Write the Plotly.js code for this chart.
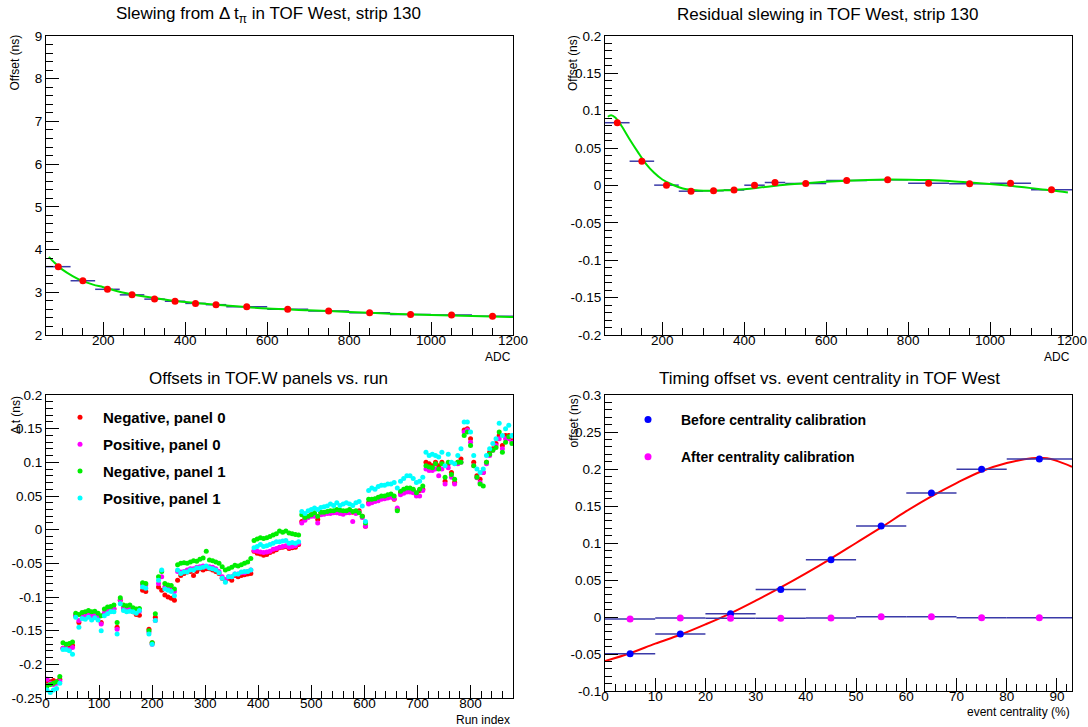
<!DOCTYPE html>
<html><head><meta charset="utf-8">
<script src="https://cdn.plot.ly/plotly-3.0.1.min.js"></script>
<style>html,body{margin:0;padding:0;background:#fff}#chart{width:1088px;height:727px}</style>
</head><body><div id="chart"></div>
<script>
// ---------- Panel 1 & 2: slewing vs ADC ----------
const adcCenters = [90,150,210,270,325,375,425,475,550,650,750,850,950,1050,1150];
const adcBinLo   = [60,120,180,240,300,350,400,450,500,600,700,800,900,1000,1100];
const adcBinHi   = [120,180,240,300,350,400,450,500,600,700,800,900,1000,1100,1200];
const slewOffset = [3.60,3.27,3.07,2.94,2.84,2.79,2.74,2.71,2.66,2.60,2.56,2.52,2.48,2.47,2.44];
const slewFitX = [67,80,100,125,150,175,200,250,300,350,400,500,600,700,800,900,1000,1100,1200];
const slewFitY = [3.83,3.70,3.53,3.38,3.26,3.18,3.12,2.99,2.90,2.83,2.77,2.69,2.62,2.58,2.54,2.50,2.47,2.445,2.42];
const residOffset = [0.084,0.0325,0.0005,-0.0076,-0.007,-0.006,0.0004,0.004,0.0027,0.0067,0.0076,0.003,0.0022,0.003,-0.0058];
const residFitX = [67,75,85,100,120,140,160,180,200,225,250,275,300,350,400,450,500,550,600,650,700,750,800,850,900,950,1000,1050,1100,1150,1190];
const residFitY = [0.092,0.094,0.091,0.080,0.062,0.045,0.029,0.017,0.008,0.001,-0.004,-0.006,-0.007,-0.0065,-0.005,-0.002,0.001,0.003,0.005,0.0065,0.0075,0.008,0.0078,0.0072,0.006,0.004,0.002,-0.0005,-0.0035,-0.0065,-0.0095];

// ---------- Panel 3: offsets vs run ----------
const runIndex = [2,8,14,20,26,32,38,44,50,56,
 62,68,74,80,86,92,98,104,110,116,
 122,128,134,140,146,152,158,164,170,176,
 182,188,194,200,206,212,218,224,230,236,
 242,248,254,260,266,272,278,284,290,296,
 302,308,314,320,326,332,338,344,350,356,
 362,368,374,380,386,392,398,404,410,416,
 422,428,434,440,446,452,458,464,470,476,
 482,488,494,500,506,512,518,524,530,536,
 542,548,554,560,566,572,578,584,590,596,
 602,608,614,620,626,632,638,644,650,656,
 662,668,674,680,686,692,698,704,710,716,
 722,728,734,740,746,752,758,764,770,776,
 782,788,794,800,806,812,818,824,830,836,
 842,848,854,860,866,872,878];
const negPanel0 = [-0.225,-0.226,-0.224,-0.226,-0.222,-0.176,-0.175,-0.176,-0.172,-0.128,
 -0.138,-0.128,-0.127,-0.126,-0.128,-0.127,-0.130,-0.138,-0.124,-0.122,
 -0.120,-0.118,-0.145,-0.105,-0.118,-0.120,-0.119,-0.122,-0.126,-0.127,
 -0.090,-0.092,-0.148,-0.168,-0.130,-0.085,-0.090,-0.097,-0.100,-0.102,
 -0.105,-0.075,-0.068,-0.065,-0.063,-0.062,-0.068,-0.062,-0.058,-0.060,
 -0.058,-0.058,-0.060,-0.062,-0.065,-0.072,-0.076,-0.072,-0.075,-0.068,
 -0.070,-0.068,-0.067,-0.066,-0.065,-0.032,-0.035,-0.036,-0.038,-0.037,
 -0.034,-0.032,-0.030,-0.027,-0.026,-0.025,-0.028,-0.027,-0.026,-0.022,
 0.012,0.017,0.020,0.022,0.022,0.015,0.025,0.025,0.026,0.027,
 0.027,0.028,0.027,0.026,0.027,0.028,0.026,0.027,0.028,0.020,
 0.005,0.040,0.044,0.045,0.046,0.048,0.048,0.050,0.052,0.045,
 0.030,0.055,0.058,0.058,0.060,0.058,0.052,0.058,0.060,0.100,
 0.098,0.095,0.100,0.095,0.100,0.072,0.098,0.085,0.070,0.100,
 0.105,0.148,0.150,0.135,0.100,0.080,0.075,0.085,0.100,0.115,
 0.120,0.128,0.140,0.125,0.140,0.140,0.132];
const posPanel0 = [-0.222,-0.228,-0.230,-0.228,-0.225,-0.176,-0.176,-0.178,-0.175,-0.127,
 -0.135,-0.127,-0.128,-0.126,-0.128,-0.127,-0.130,-0.140,-0.124,-0.121,
 -0.118,-0.117,-0.148,-0.104,-0.116,-0.118,-0.118,-0.120,-0.122,-0.121,
 -0.081,-0.082,-0.152,-0.170,-0.135,-0.080,-0.070,-0.085,-0.088,-0.087,
 -0.092,-0.062,-0.063,-0.062,-0.060,-0.058,-0.058,-0.056,-0.055,-0.054,
 -0.055,-0.055,-0.056,-0.058,-0.062,-0.070,-0.074,-0.070,-0.070,-0.066,
 -0.066,-0.064,-0.064,-0.062,-0.060,-0.031,-0.032,-0.033,-0.034,-0.033,
 -0.032,-0.029,-0.028,-0.026,-0.025,-0.024,-0.026,-0.025,-0.024,-0.020,
 0.010,0.014,0.018,0.020,0.020,0.010,0.022,0.023,0.024,0.024,
 0.025,0.025,0.024,0.023,0.025,0.025,0.012,0.024,0.026,0.018,
 0.005,0.038,0.040,0.042,0.043,0.045,0.046,0.047,0.048,0.046,
 0.032,0.052,0.054,0.056,0.056,0.055,0.050,0.050,0.058,0.090,
 0.088,0.088,0.090,0.080,0.090,0.068,0.092,0.078,0.068,0.098,
 0.100,0.145,0.148,0.130,0.095,0.077,0.070,0.085,0.098,0.110,
 0.118,0.125,0.135,0.120,0.135,0.135,0.130];
const negPanel1 = [-0.232,-0.230,-0.228,-0.226,-0.218,-0.168,-0.170,-0.169,-0.167,-0.124,
 -0.126,-0.123,-0.122,-0.120,-0.122,-0.121,-0.124,-0.128,-0.118,-0.115,
 -0.114,-0.112,-0.138,-0.101,-0.112,-0.113,-0.112,-0.116,-0.118,-0.117,
 -0.079,-0.080,-0.150,-0.168,-0.125,-0.070,-0.062,-0.080,-0.082,-0.083,
 -0.088,-0.052,-0.050,-0.049,-0.050,-0.048,-0.046,-0.047,-0.044,-0.042,
 -0.032,-0.045,-0.046,-0.048,-0.050,-0.055,-0.060,-0.058,-0.056,-0.053,
 -0.054,-0.052,-0.050,-0.048,-0.043,-0.016,-0.014,-0.012,-0.013,-0.012,
 -0.010,-0.008,-0.006,-0.002,-0.004,-0.002,-0.005,-0.006,-0.007,-0.008,
 0.022,0.018,0.020,0.022,0.025,0.020,0.026,0.026,0.027,0.028,
 0.028,0.030,0.029,0.028,0.028,0.030,0.027,0.028,0.025,0.020,
 0.010,0.045,0.045,0.046,0.048,0.050,0.050,0.052,0.053,0.050,
 0.028,0.057,0.060,0.062,0.062,0.060,0.055,0.060,0.065,0.095,
 0.093,0.092,0.098,0.090,0.098,0.078,0.100,0.082,0.075,0.100,
 0.100,0.140,0.145,0.125,0.095,0.078,0.068,0.065,0.100,0.112,
 0.118,0.122,0.145,0.115,0.130,0.138,0.128];
const posPanel1 = [-0.238,-0.242,-0.238,-0.236,-0.228,-0.178,-0.178,-0.180,-0.185,-0.130,
 -0.145,-0.132,-0.133,-0.130,-0.134,-0.131,-0.134,-0.150,-0.128,-0.125,
 -0.122,-0.122,-0.155,-0.110,-0.120,-0.122,-0.121,-0.122,-0.124,-0.120,
 -0.085,-0.087,-0.155,-0.170,-0.135,-0.075,-0.060,-0.088,-0.090,-0.092,
 -0.098,-0.060,-0.065,-0.063,-0.063,-0.060,-0.060,-0.057,-0.057,-0.056,
 -0.054,-0.057,-0.058,-0.060,-0.064,-0.072,-0.078,-0.070,-0.070,-0.066,
 -0.066,-0.063,-0.062,-0.062,-0.060,-0.027,-0.025,-0.022,-0.025,-0.024,
 -0.022,-0.020,-0.018,-0.018,-0.017,-0.016,-0.020,-0.019,-0.020,-0.018,
 0.027,0.024,0.028,0.030,0.032,0.030,0.033,0.034,0.035,0.038,
 0.036,0.040,0.036,0.038,0.040,0.038,0.036,0.040,0.042,0.035,
 0.012,0.058,0.062,0.060,0.064,0.066,0.066,0.068,0.068,0.070,
 0.062,0.072,0.076,0.080,0.080,0.076,0.070,0.072,0.078,0.115,
 0.110,0.112,0.110,0.108,0.115,0.095,0.112,0.100,0.098,0.110,
 0.120,0.160,0.160,0.145,0.110,0.090,0.085,0.090,0.110,0.120,
 0.128,0.135,0.158,0.140,0.150,0.155,0.140];

// ---------- Panel 4: offset vs centrality ----------
const centCenters = [5,15,25,35,45,55,65,75,86.5];
const centBinLo = [0,10,20,30,40,50,60,70,80];
const centBinHi = [10,20,30,40,50,60,70,80,93];
const beforeOffset = [-0.0495,-0.023,0.0045,0.037,0.0775,0.123,0.1675,0.1995,0.2135];
const afterOffset = [-0.0027,-0.0014,-0.0018,-0.0018,-0.0014,0.0005,0.0005,-0.001,-0.001];
const centFitX = [0,5,10,15,20,25,30,35,40,45,50,55,60,65,70,75,80,85,88,90,93];
const centFitY = [-0.0595,-0.049,-0.036,-0.024,-0.010,0.005,0.022,0.040,0.059,0.079,0.100,0.121,0.143,0.163,0.181,0.197,0.208,0.2145,0.2145,0.211,0.203];

// ---------- tick labels ----------
const yTicks1 = [2,3,4,5,6,7,8,9];
const yLabels1 = ['2','3','4','5','6','7','8','9'];
const yTicks2 = [-0.2,-0.15,-0.1,-0.05,0,0.05,0.1,0.15,0.2];
const yLabels2 = ['-0.2','-0.15','-0.1','-0.05','0','0.05','0.1','0.15','0.2'];
const yTicks3 = [-0.25,-0.2,-0.15,-0.1,-0.05,0,0.05,0.1,0.15,0.2];
const yLabels3 = ['-0.25','-0.2','-0.15','-0.1','-0.05','0','0.05','0.1','0.15','0.2'];
const yTicks4 = [-0.1,-0.05,0,0.05,0.1,0.15,0.2,0.25,0.3];
const yLabels4 = ['-0.1','-0.05','0','0.05','0.1','0.15','0.2','0.25','0.3'];
const xTicksAdc = [200,400,600,800,1000,1200];
const xLabelsAdc = ['200','400','600','800','1000','1200'];
const xTicksRun = [0,100,200,300,400,500,600,700,800];
const xLabelsRun = ['0','100','200','300','400','500','600','700','800'];
const xTicksCent = [0,10,20,30,40,50,60,70,80,90];
const xLabelsCent = ['0','10','20','30','40','50','60','70','80','90'];

const FONT = 'Liberation Sans, Arial, Helvetica, sans-serif';
const W = 1088, H = 727;
const px = v => v / W;
const py = v => 1 - v / H;

function minus(a, b) { return a.map((v, i) => v - b[i]); }

function axis(domain, range, vals, texts, minorD, anchor, isX) {
  const a = {
    domain: domain, range: range, anchor: anchor, autorange: false,
    tickmode: 'array', tickvals: vals, ticktext: texts,
    ticks: 'inside', ticklen: 13, tickwidth: 1, tickcolor: '#000',
    showline: true, linecolor: '#000', linewidth: 1, mirror: true,
    showgrid: false, zeroline: false, fixedrange: true,
    tickfont: {family: FONT, size: 13.5, color: '#000'},
    minor: {tickmode: 'linear', tick0: 0, dtick: minorD, ticks: 'inside', ticklen: 7, tickwidth: 1, tickcolor: '#000', showgrid: false}
  };
  if (isX) a.ticklabelstandoff = -7;
  return a;
}

const xL = [px(46), px(513)], xR = [px(605), px(1072)];
const yT = [py(335), py(36)];
const yBL = [py(698), py(395)], yBR = [py(691), py(395)];

const barColor = '#3a3aa8';
const runSize = 5;
const traces = [
  // panel 1
  {x: adcCenters, y: slewOffset, xaxis: 'x', yaxis: 'y', mode: 'markers', showlegend: false,
   marker: {size: 1, color: 'rgba(0,0,0,0)'},
   error_x: {type: 'data', symmetric: false, array: minus(adcBinHi, adcCenters), arrayminus: minus(adcCenters, adcBinLo), color: barColor, thickness: 1.5, width: 0}},
  {x: slewFitX, y: slewFitY, xaxis: 'x', yaxis: 'y', mode: 'lines', showlegend: false,
   line: {color: '#00e000', width: 2, shape: 'spline'}},
  {x: adcCenters, y: slewOffset, xaxis: 'x', yaxis: 'y', mode: 'markers', showlegend: false,
   marker: {size: 7, color: '#ff0000'}},
  // panel 2
  {x: adcCenters, y: residOffset, xaxis: 'x2', yaxis: 'y2', mode: 'markers', showlegend: false,
   marker: {size: 1, color: 'rgba(0,0,0,0)'},
   error_x: {type: 'data', symmetric: false, array: minus(adcBinHi, adcCenters), arrayminus: minus(adcCenters, adcBinLo), color: barColor, thickness: 1.5, width: 0}},
  {x: residFitX, y: residFitY, xaxis: 'x2', yaxis: 'y2', mode: 'lines', showlegend: false,
   line: {color: '#00e000', width: 2, shape: 'spline'}},
  {x: adcCenters, y: residOffset, xaxis: 'x2', yaxis: 'y2', mode: 'markers', showlegend: false,
   marker: {size: 7, color: '#ff0000'}},
  // panel 3
  {x: runIndex, y: negPanel0, xaxis: 'x3', yaxis: 'y3', mode: 'markers', name: 'Negative, panel 0',
   legend: 'legend', legendgroup: 'a', marker: {size: runSize, color: '#ff0000'}},
  {x: runIndex, y: posPanel0, xaxis: 'x3', yaxis: 'y3', mode: 'markers', name: 'Positive, panel 0',
   legend: 'legend', legendgroup: 'b', marker: {size: runSize, color: '#ff00ff'}},
  {x: runIndex, y: negPanel1, xaxis: 'x3', yaxis: 'y3', mode: 'markers', name: 'Negative, panel 1',
   legend: 'legend', legendgroup: 'c', marker: {size: runSize, color: '#00ee00'}},
  {x: runIndex, y: posPanel1, xaxis: 'x3', yaxis: 'y3', mode: 'markers', name: 'Positive, panel 1',
   legend: 'legend', legendgroup: 'd', marker: {size: runSize, color: '#00ffff'}},
  // panel 4
  {x: centFitX, y: centFitY, xaxis: 'x4', yaxis: 'y4', mode: 'lines', showlegend: false,
   line: {color: '#ff0000', width: 2, shape: 'spline'}},
  {x: centCenters, y: beforeOffset, xaxis: 'x4', yaxis: 'y4', mode: 'markers', name: 'Before centrality calibration',
   legend: 'legend2', legendgroup: 'e', marker: {size: 7, color: '#0000ff'},
   error_x: {type: 'data', symmetric: false, array: minus(centBinHi, centCenters), arrayminus: minus(centCenters, centBinLo), color: barColor, thickness: 1.5, width: 0}},
  {x: centCenters, y: afterOffset, xaxis: 'x4', yaxis: 'y4', mode: 'markers', name: 'After centrality calibration',
   legend: 'legend2', legendgroup: 'f', marker: {size: 7, color: '#ff00ff'},
   error_x: {type: 'data', symmetric: false, array: minus(centBinHi, centCenters), arrayminus: minus(centCenters, centBinLo), color: barColor, thickness: 1.5, width: 0}}
];

function ann(text, x, y, opts) {
  return Object.assign({text: text, x: x, y: y, xref: 'paper', yref: 'paper', showarrow: false,
    font: {family: FONT, size: 12, color: '#000'}}, opts || {});
}
const titleFont = {family: FONT, size: 17, color: '#000'};

const layout = {
  width: W, height: H, margin: {l: 0, r: 0, t: 0, b: 0, pad: 0},
  paper_bgcolor: '#fff', plot_bgcolor: '#fff',
  xaxis:  axis(xL, [60, 1200], xTicksAdc, xLabelsAdc, 50, 'y', true),
  yaxis:  axis(yT, [2, 9], yTicks1, yLabels1, 0.2, 'x', false),
  xaxis2: axis(xR, [60, 1200], xTicksAdc, xLabelsAdc, 50, 'y2', true),
  yaxis2: axis(yT, [-0.2, 0.2], yTicks2, yLabels2, 0.01, 'x2', false),
  xaxis3: axis(xL, [0, 880], xTicksRun, xLabelsRun, 20, 'y3', true),
  yaxis3: axis(yBL, [-0.25, 0.2], yTicks3, yLabels3, 0.01, 'x3', false),
  xaxis4: axis(xR, [0, 93], xTicksCent, xLabelsCent, 2, 'y4', true),
  yaxis4: axis(yBR, [-0.1, 0.3], yTicks4, yLabels4, 0.01, 'x4', false),
  legend: {x: px(57), xanchor: 'left', y: py(401), yanchor: 'top', bgcolor: 'rgba(0,0,0,0)',
    itemwidth: 36, tracegroupgap: 4.4, font: {family: FONT, size: 15, weight: 'bold', color: '#000'}},
  legend2: {x: px(615), xanchor: 'left', y: py(404), yanchor: 'top', bgcolor: 'rgba(0,0,0,0)',
    itemwidth: 56, tracegroupgap: 16, font: {family: FONT, size: 14, weight: 'bold', color: '#000'}},
  annotations: [
    ann('Slewing from Δ t<sub>π</sub> in TOF West, strip 130', px(268), py(15), {font: titleFont, xanchor: 'center', yanchor: 'middle'}),
    ann('Residual slewing in TOF West, strip 130', px(827), py(15), {font: titleFont, xanchor: 'center', yanchor: 'middle'}),
    ann('Offsets in TOF.W panels vs. run', px(268), py(378), {font: titleFont, xanchor: 'center', yanchor: 'middle'}),
    ann('Timing offset vs. event centrality in TOF West', px(829), py(378), {font: titleFont, xanchor: 'center', yanchor: 'middle'}),
    ann('Offset (ns)', px(14.5), py(33), {textangle: -90, xanchor: 'center', yanchor: 'top'}),
    ann('Offset (ns)', px(573), py(33), {textangle: -90, xanchor: 'center', yanchor: 'top'}),
    ann('Δ t (ns)', px(16), py(394), {textangle: -90, xanchor: 'center', yanchor: 'top'}),
    ann('offset (ns)', px(573), py(393), {textangle: -90, xanchor: 'center', yanchor: 'top'}),
    ann('ADC', px(513), py(357), {xanchor: 'right', yanchor: 'middle'}),
    ann('ADC', px(1072), py(357), {xanchor: 'right', yanchor: 'middle'}),
    ann('Run index', px(512), py(719.5), {xanchor: 'right', yanchor: 'middle'}),
    ann('event centrality (%)', px(1072), py(712), {xanchor: 'right', yanchor: 'middle'})
  ]
};

Plotly.newPlot('chart', traces, layout, {staticPlot: true, displayModeBar: false});
</script>
</body></html>
